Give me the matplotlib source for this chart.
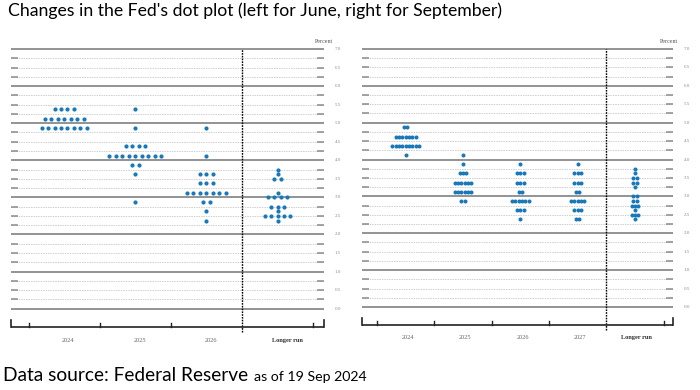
import matplotlib
matplotlib.use("Agg")
import matplotlib.pyplot as plt
import numpy as np

# ---------------- data ----------------
title = "Changes in the Fed's dot plot (left for June, right for September)"
source_main = "Data source: Federal Reserve"
source_date = "as of 19 Sep 2024"

june_columns = ["2024", "2025", "2026", "Longer run"]
june_2024 = {5.375: 4, 5.125: 7, 4.875: 8}
june_2025 = {5.375: 1, 4.875: 1, 4.375: 4, 4.125: 9, 3.875: 2, 3.625: 1, 2.875: 1}
june_2026 = {4.875: 1, 4.125: 1, 3.625: 3, 3.375: 3, 3.125: 7, 2.875: 2, 2.625: 1, 2.375: 1}
june_longer = {3.75: 1, 3.625: 1, 3.5: 2, 3.125: 1, 3.0: 4, 2.75: 3, 2.625: 1, 2.5: 5, 2.375: 1}

sep_columns = ["2024", "2025", "2026", "2027", "Longer run"]
sep_2024 = {4.875: 2, 4.625: 7, 4.375: 9, 4.125: 1}
sep_2025 = {4.125: 1, 3.875: 1, 3.625: 3, 3.375: 6, 3.125: 6, 2.875: 2}
sep_2026 = {3.875: 1, 3.625: 3, 3.375: 3, 3.125: 2, 2.875: 6, 2.625: 3, 2.375: 1}
sep_2027 = {3.875: 1, 3.625: 3, 3.375: 3, 3.125: 2, 2.875: 5, 2.625: 3, 2.375: 2}
sep_longer = {3.75: 1, 3.625: 1, 3.5: 2, 3.375: 2, 3.25: 1, 3.0: 2, 2.875: 2,
              2.75: 3, 2.625: 1, 2.5: 3, 2.375: 1}

y_tick_labels = ["0.0", "0.5", "1.0", "1.5", "2.0", "2.5", "3.0", "3.5",
                 "4.0", "4.5", "5.0", "5.5", "6.0", "6.5", "7.0"]

DOT = "#1878b9"
W, H = 700, 390


def draw_panel(fig, px_left, px_right, px_top, px_bottom, columns, dot_sets,
               xlim, dot_step, msize, label_dx, label_y, ylab_x, pct_x):
    ax = fig.add_axes([px_left / W, 1 - px_bottom / H,
                       (px_right - px_left) / W, (px_bottom - px_top) / H])
    ax.set_xlim(*xlim)
    ax.set_ylim(-0.5, 7.0)
    ax.axis("off")
    x0, x1 = xlim
    ncol = len(columns)
    ux = (px_right - px_left) / (x1 - x0)
    cap = 7.0 / ux
    for v in np.arange(0, 7.001, 0.25):
        if abs(v - round(v)) < 1e-9:
            ax.plot([x0, x1], [v, v], color="#808080", lw=1.2,
                    solid_capstyle="butt", clip_on=False, zorder=1)
        else:
            ax.plot([x0, x1], [v, v], color="#cfcfcf", lw=0.7,
                    ls=(0, (1.5, 1.0)), clip_on=False, zorder=1)
            ax.plot([x0, x0 + cap], [v, v], color="#8c8c8c", lw=1.1,
                    solid_capstyle="butt", clip_on=False, zorder=1)
            ax.plot([x1 - cap, x1], [v, v], color="#8c8c8c", lw=1.1,
                    solid_capstyle="butt", clip_on=False, zorder=1)
    for lab in y_tick_labels:
        ax.text(ylab_x, float(lab), lab, fontsize=3.6, color="#8a8a8a",
                family="Liberation Serif", ha="center", va="center", clip_on=False)
    ax.text(pct_x, 7.13, "Percent", fontsize=4.3, color="#555555",
            family="Liberation Serif", ha="center", va="bottom", clip_on=False)
    sep_x = ncol - 1.5
    ax.plot([sep_x, sep_x], [-0.62, 7.0], color="black", lw=1.0,
            ls=(0, (1.2, 0.8)), clip_on=False, zorder=2)
    ax.plot([x0, x1], [-0.5, -0.5], color="#222222", lw=1.2, clip_on=False,
            solid_capstyle="butt", zorder=2)
    uy = (px_bottom - px_top) / 7.5
    for xt in [x0, x1]:
        ax.plot([xt, xt], [-0.5, -0.5 + 7.5 / uy], color="#222222", lw=1.2,
                clip_on=False, zorder=2)
    tick_xs = [i - 0.5 for i in range(ncol)] + [ncol - 0.5]
    for xt in tick_xs:
        if abs(xt - sep_x) < 1e-9:
            continue
        ax.plot([xt, xt], [-0.5, -0.5 + 4.0 / uy], color="#222222", lw=1.0,
                clip_on=False, zorder=2)
    for i, name in enumerate(columns):
        bold = name == "Longer run"
        ax.text(i + label_dx[i], label_y, name, fontsize=4.6,
                color="#333333" if bold else "#666666",
                fontweight="bold" if bold else "normal",
                family="Liberation Serif", ha="center", va="center", clip_on=False)
    for i, ds in enumerate(dot_sets):
        xs, ys = [], []
        for lvl, n in ds.items():
            for k in range(n):
                xs.append(i + (k - (n - 1) / 2) * dot_step)
                ys.append(lvl)
        ax.plot(xs, ys, "o", color=DOT, ms=msize, mec="none", clip_on=False, zorder=3)
    return ax


fig = plt.figure(figsize=(7, 3.9), dpi=100)
fig.patch.set_facecolor("white")

draw_panel(fig, 11, 324, 49, 327.2, june_columns,
           [june_2024, june_2025, june_2026, june_longer],
           (-0.749, 3.654), 0.0913, 3.0,
           [0.05, 0.06, 0.07, 0.14], -0.85, 3.851, 3.66)

draw_panel(fig, 362.3, 673.3, 49, 325.4, sep_columns,
           [sep_2024, sep_2025, sep_2026, sep_2027, sep_longer],
           (-0.757, 4.668), 0.0589, 2.9,
           [0.04, 0.04, 0.04, 0.04, 0.02], -0.83, 4.907, 4.60)

fig.text(8 / W, 1 - 16 / H, title, fontsize=12.7, family="Lato",
         color="black", ha="left", va="baseline")
fig.text(3 / W, 1 - 381 / H, source_main, fontsize=13.8, family="Lato",
         color="black", ha="left", va="baseline")
fig.text(254 / W, 1 - 381 / H, source_date, fontsize=10.2, family="Lato",
         color="black", ha="left", va="baseline")

fig.savefig("out.png", dpi=100)
